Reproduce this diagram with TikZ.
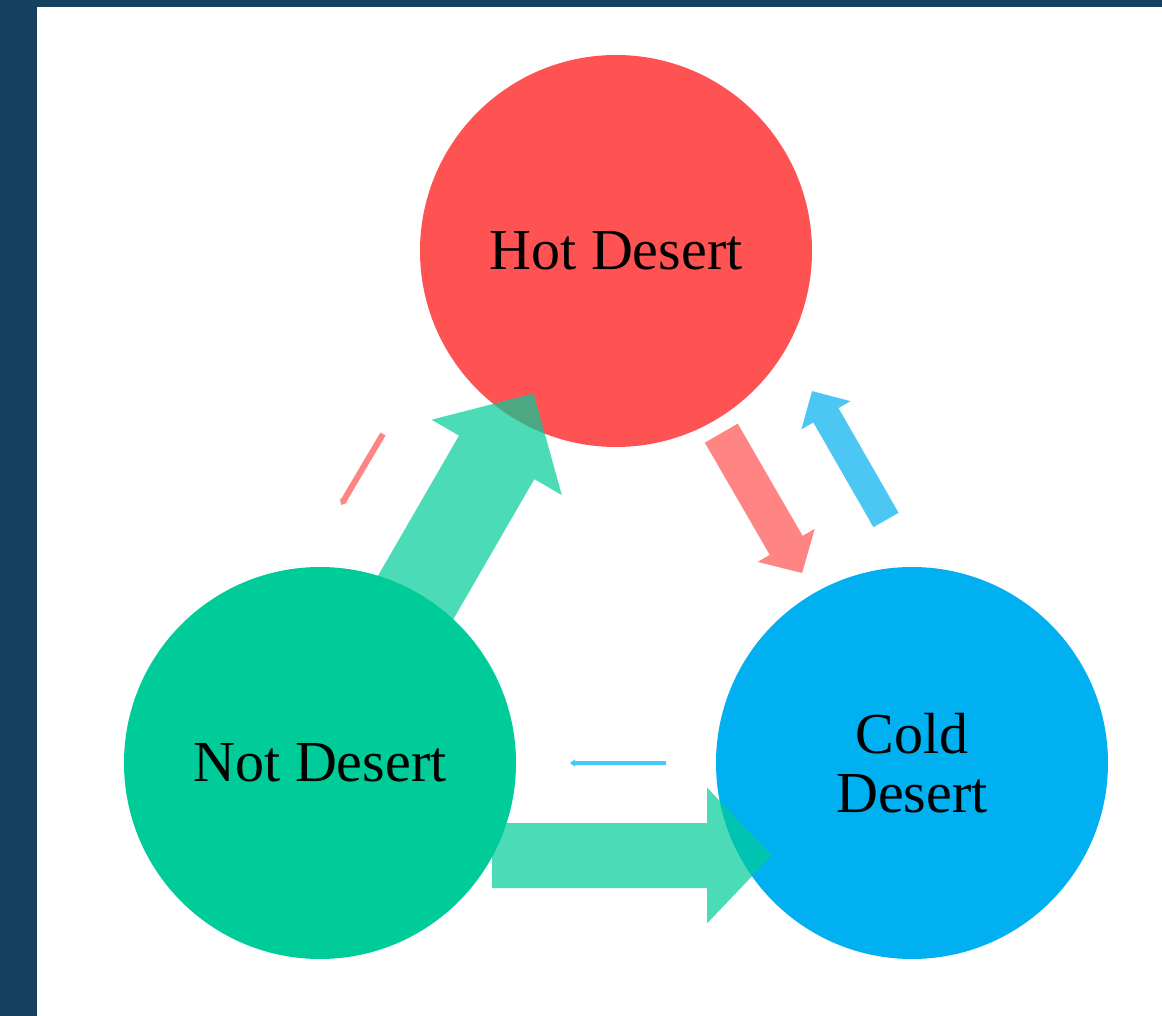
\documentclass[tikz,border=0pt]{standalone}
\usepackage{fontspec}
\setmainfont{Liberation Serif}
\usetikzlibrary{arrows.meta,positioning}
\definecolor{FrameBlue}{HTML}{15405F}
\definecolor{HotRed}{HTML}{FF5252}
\definecolor{NotGreen}{HTML}{00CC99}
\definecolor{ColdBlue}{HTML}{00B0F0}

\begin{document}
\begin{tikzpicture}[x=0.5pt, y=-0.5pt,
  state/.style={circle, minimum size=196pt, inner sep=0pt, align=center,
    font=\fontsize{29}{29.5}\selectfont},
  flow/.style={line cap=butt}]
% Frame
\fill[FrameBlue] (0,0) rectangle (1162,1016);
\fill[white] (37,7) rectangle (1162,1016);
\useasboundingbox (0,0) rectangle (1162,1016);

% States
\node[state, fill=HotRed] (hot) at (616,251) {Hot Desert};
\node[state, fill=NotGreen] (not) at (320,763) {Not Desert};
\node[state, fill=ColdBlue] (cold) at (912,763) {Cold\\Desert};

% Free ends of the off-axis flows
\coordinate (hotnotA) at (383,434);
\coordinate (hotnotB) at (341,505);
\coordinate (coldhotA) at (886,520);
\coordinate (coldhotB) at (812,391);
\coordinate (notcoldA) at (492,855.5);
\coordinate (notcoldB) at (772,855.5);
\coordinate (coldnotA) at (666,763);
\coordinate (coldnotB) at (570,763);

% Transition arrows, width ~ probability
\begin{scope}[transparency group, opacity=0.7]
\draw[flow, NotGreen, line width=43.5pt, -{Triangle[width=73pt, length=37pt]},
  shorten <=-20pt, shorten >=-16pt] (not) -- (hot);
\draw[flow, NotGreen, line width=32.5pt, -{Triangle[width=66pt, length=32.5pt]}]
  (notcoldA) -- (notcoldB);
\draw[flow, HotRed, line width=19pt, -{Triangle[width=32pt, length=16pt]},
  shorten <=7pt, shorten >=11.5pt] (hot) -- (cold);
\draw[flow, ColdBlue, line width=14.5pt, -{Triangle[width=27.5pt, length=14pt]}]
  (coldhotA) -- (coldhotB);
\draw[flow, HotRed, line width=3pt, -{Triangle[width=4pt, length=2.5pt]}]
  (hotnotA) -- (hotnotB);
\draw[flow, ColdBlue, line width=2pt, -{Triangle[width=3.5pt, length=2.5pt]}]
  (coldnotA) -- (coldnotB);
\end{scope}
\end{tikzpicture}
\end{document}
